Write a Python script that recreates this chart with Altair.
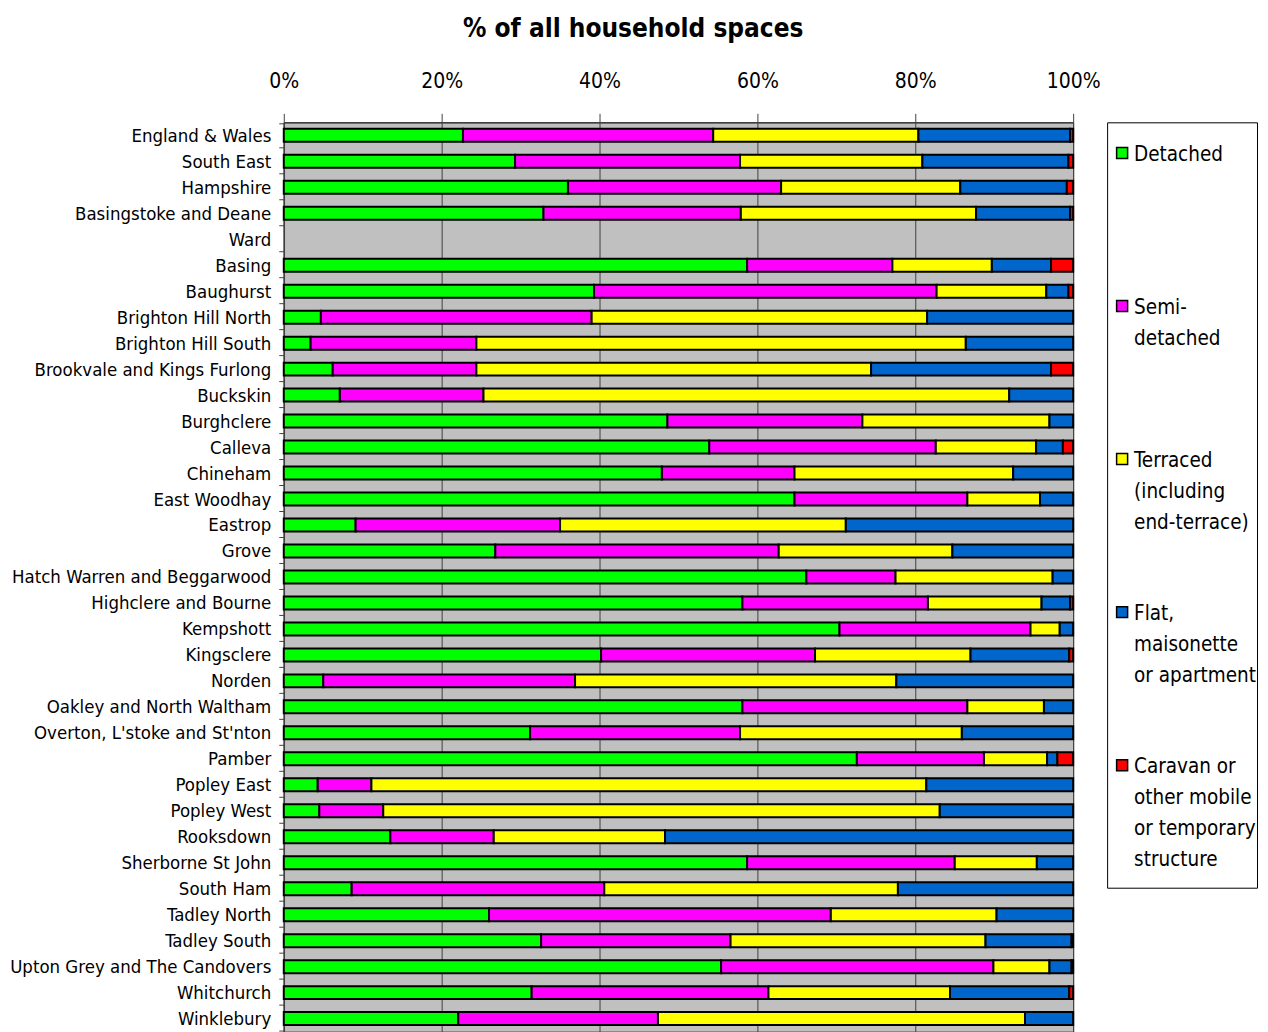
import altair as alt
import pandas as pd

categories = [
    "England & Wales", "South East", "Hampshire", "Basingstoke and Deane", "Ward",
    "Basing", "Baughurst", "Brighton Hill North", "Brighton Hill South",
    "Brookvale and Kings Furlong", "Buckskin", "Burghclere", "Calleva", "Chineham",
    "East Woodhay", "Eastrop", "Grove", "Hatch Warren and Beggarwood",
    "Highclere and Bourne", "Kempshott", "Kingsclere", "Norden",
    "Oakley and North Waltham", "Overton, L'stoke and St'nton", "Pamber",
    "Popley East", "Popley West", "Rooksdown", "Sherborne St John", "South Ham",
    "Tadley North", "Tadley South", "Upton Grey and The Candovers", "Whitchurch",
    "Winklebury",
]

series = ["Detached", "Semi-detached", "Terraced (including end-terrace)",
          "Flat, maisonette or apartment", "Caravan or other mobile or temporary structure"]
legend_lines = [
    ["Detached"],
    ["Semi-", "detached"],
    ["Terraced", "(including", "end-terrace)"],
    ["Flat,", "maisonette", "or apartment"],
    ["Caravan or", "other mobile", "or temporary", "structure"],
]
colors = ["#00FF00", "#FF00FF", "#FFFF00", "#0066CC", "#FF0000"]

detached = [22.7, 29.3, 36.0, 32.9, None, 58.7, 39.3, 4.7, 3.4, 6.2, 7.1, 48.6, 53.9, 47.9,
            64.7, 9.1, 26.8, 66.2, 58.1, 70.4, 40.2, 5.0, 58.1, 31.2, 72.6, 4.3, 4.5, 13.5,
            58.7, 8.6, 26.0, 32.6, 55.4, 31.4, 22.1]
semi = [31.7, 28.5, 27.0, 25.0, None, 18.4, 43.4, 34.3, 21.0, 18.2, 18.2, 24.7, 28.7, 16.8,
        21.9, 25.9, 35.9, 11.3, 23.5, 24.2, 27.1, 31.9, 28.5, 26.6, 16.1, 6.8, 8.1, 13.1,
        26.3, 32.0, 43.3, 24.0, 34.5, 30.0, 25.3]
terraced = [26.0, 23.1, 22.7, 29.8, None, 12.6, 13.9, 42.5, 62.0, 50.0, 66.6, 23.7, 12.7, 27.7,
            9.2, 36.2, 22.0, 19.9, 14.4, 3.7, 19.7, 40.7, 9.7, 28.1, 8.0, 70.3, 70.5, 21.7,
            10.4, 37.2, 21.0, 32.3, 7.1, 23.0, 46.5]
flat = [19.2, 18.5, 13.5, 11.9, None, 7.5, 2.8, 18.5, 13.6, 22.8, 8.1, 3.0, 3.4, 7.6,
        4.2, 28.8, 15.3, 2.6, 3.6, 1.7, 12.5, 22.4, 3.7, 14.1, 1.3, 18.6, 16.9, 51.7,
        4.6, 22.2, 9.7, 10.9, 2.8, 15.1, 6.1]
caravan = [0.4, 0.6, 0.8, 0.4, None, 2.8, 0.6, 0, 0, 2.8, 0, 0, 1.3, 0,
           0, 0, 0, 0, 0.4, 0, 0.5, 0, 0, 0, 2.0, 0, 0, 0,
           0, 0, 0, 0.2, 0.2, 0.5, 0]

x_ticks = [0, 20, 40, 60, 80, 100]

FONT = "Liberation Sans Narrow, Arial Narrow, DejaVu Sans Condensed, sans-serif"

rows = []
for i, c in enumerate(categories):
    for j, vals in enumerate([detached, semi, terraced, flat, caravan]):
        v = vals[i]
        if v is None or v == 0:
            continue
        rows.append({"area": c, "series": series[j], "order": j, "value": v})
df = pd.DataFrame(rows)

color_scale = alt.Scale(domain=series, range=colors)

bars = alt.Chart(df).mark_bar(size=13, stroke="black", strokeWidth=2).encode(
    x=alt.X("value:Q", stack="zero",
            scale=alt.Scale(domain=[0, 100], nice=False),
            axis=alt.Axis(orient="top", values=x_ticks, labelExpr="datum.value + '%'",
                          title=None, grid=True, gridColor="#404040", gridWidth=1,
                          tickSize=9, tickColor="#404040", domainColor="#404040",
                          domainWidth=1.5, labelFontSize=21, labelPadding=22,
                          labelFlush=False, labelFont=FONT, labelColor="black")),
    y=alt.Y("area:N", sort=categories, scale=alt.Scale(domain=categories),
            axis=alt.Axis(title=None, tickBand="extent", tickSize=5, tickColor="#404040",
                          domainColor="#404040", domainWidth=1.5, labelFontSize=18.5,
                          labelPadding=8, grid=False, labelLimit=400,
                          labelFont=FONT, labelColor="black")),
    color=alt.Color("series:N", scale=color_scale, legend=None),
    order=alt.Order("order:Q"),
).properties(width=790, height=910,
             view=alt.ViewBackground(fill="#C0C0C0", stroke="#404040"))

leg_df = pd.DataFrame({"series": series, "lines": legend_lines})
leg_base = alt.Chart(leg_df).encode(
    y=alt.Y("series:N", sort=series,
            scale=alt.Scale(domain=series, paddingInner=0, paddingOuter=0),
            axis=None)
)
sym = leg_base.mark_square(size=121, stroke="black", strokeWidth=1.5, opacity=1,
                           yOffset=-46).encode(
    x=alt.value(15),
    color=alt.Color("series:N", scale=color_scale, legend=None),
)
txt = leg_base.mark_text(align="left", baseline="top", fontSize=20.5, lineHeight=31,
                         yOffset=-54, font=FONT, color="black").encode(
    x=alt.value(27),
    text=alt.Text("lines:N"),
)
legend = alt.layer(sym, txt).properties(
    width=150, height=766,
    view=alt.ViewBackground(fill="white", stroke="black", strokeWidth=1))

chart = alt.hconcat(bars, legend, spacing=34, bounds="flush").properties(
    title=alt.Title("% of all household spaces", fontSize=26, fontWeight="bold",
                    font=FONT, anchor="middle", offset=28, color="black"),
    padding={"left": 0, "top": 7, "right": 2, "bottom": 0},
    background="white",
).configure(font=FONT)

chart.save("out.html", embed_options={"renderer": "svg", "actions": False})
